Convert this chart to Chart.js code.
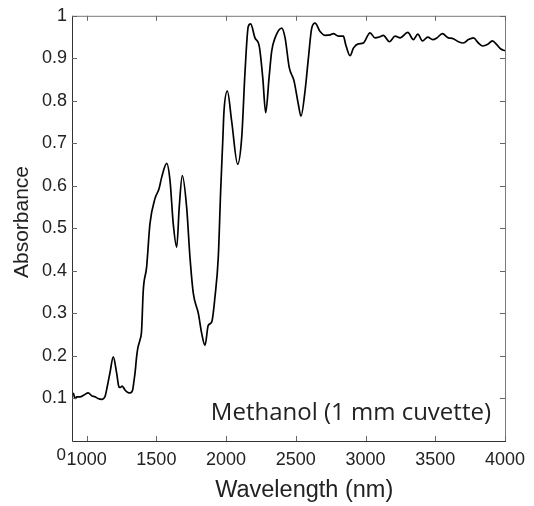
<!DOCTYPE html>
<html>
<head>
<meta charset="utf-8">
<script src="https://cdn.jsdelivr.net/npm/chart.js@4.4.1/dist/chart.umd.min.js"></script>
<style>
  html, body { margin: 0; padding: 0; background: #fff; }
  #wrap { width: 534px; height: 506px; }
</style>
</head>
<body>
<div id="wrap"><canvas id="c" width="534" height="506"></canvas></div>
<script>
// Wavelength (nm) samples
const wavelength = [895, 905, 916, 930, 952, 981, 1011, 1038, 1060, 1081, 1108, 1131, 1149, 1167, 1191, 1215, 1232, 1242, 1255, 1275, 1296, 1311, 1330, 1339, 1347, 1359, 1368, 1382, 1394, 1406, 1430, 1454, 1490, 1519, 1538, 1574, 1598, 1621, 1646, 1664, 1686, 1717, 1741, 1765, 1801, 1825, 1849, 1872, 1897, 1920, 1944, 1961, 1976, 1985, 2009, 2040, 2083, 2112, 2136, 2159, 2176, 2207, 2238, 2263, 2284, 2308, 2327, 2351, 2399, 2423, 2453, 2487, 2518, 2537, 2566, 2590, 2614, 2638, 2674, 2710, 2746, 2769, 2805, 2841, 2858, 2889, 2913, 2948, 2984, 3032, 3068, 3099, 3128, 3171, 3212, 3248, 3303, 3343, 3375, 3408, 3446, 3482, 3511, 3551, 3594, 3622, 3666, 3702, 3738, 3774, 3809, 3841, 3877, 3910, 3941, 3970, 4000];
// Absorbance values
const absorbance = [0.108, 0.112, 0.100, 0.104, 0.104, 0.108, 0.113, 0.106, 0.104, 0.100, 0.098, 0.104, 0.130, 0.160, 0.198, 0.160, 0.127, 0.126, 0.129, 0.120, 0.114, 0.113, 0.120, 0.140, 0.160, 0.200, 0.220, 0.237, 0.260, 0.354, 0.409, 0.511, 0.570, 0.593, 0.620, 0.653, 0.612, 0.511, 0.456, 0.550, 0.624, 0.550, 0.432, 0.347, 0.300, 0.253, 0.225, 0.272, 0.280, 0.338, 0.432, 0.588, 0.705, 0.776, 0.823, 0.752, 0.651, 0.714, 0.870, 0.975, 0.981, 0.948, 0.928, 0.854, 0.772, 0.854, 0.917, 0.948, 0.971, 0.948, 0.878, 0.847, 0.792, 0.764, 0.823, 0.900, 0.971, 0.983, 0.963, 0.954, 0.955, 0.958, 0.952, 0.952, 0.932, 0.906, 0.924, 0.934, 0.936, 0.960, 0.948, 0.950, 0.954, 0.939, 0.952, 0.948, 0.961, 0.944, 0.957, 0.941, 0.950, 0.944, 0.948, 0.958, 0.948, 0.947, 0.939, 0.936, 0.944, 0.948, 0.936, 0.929, 0.933, 0.941, 0.932, 0.922, 0.918];
const xTicks = [1000, 1500, 2000, 2500, 3000, 3500, 4000];
const yTicks = [0.1, 0.2, 0.3, 0.4, 0.5, 0.6, 0.7, 0.8, 0.9, 1];
const xLabel = 'Wavelength (nm)';
const yLabel = 'Absorbance';
const annotation = 'Methanol (1 mm cuvette)';

const points = wavelength.map((w, i) => ({ x: w, y: absorbance[i] }));
const SANS = '"Liberation Sans", Arial, Helvetica, sans-serif';

const boxPlugin = {
  id: 'box',
  afterDatasetsDraw(chart) {
    const { ctx, scales: { x, y } } = chart;
    const L = x.left, R = x.right, T = y.top, B = y.bottom;
    ctx.save();
    // top & right frame
    ctx.lineWidth = 1;
    ctx.strokeStyle = '#7a7a7a';
    ctx.beginPath();
    ctx.moveTo(L, T + 0.5); ctx.lineTo(R + 0.5, T + 0.5); ctx.lineTo(R + 0.5, B);
    ctx.stroke();
    // left & bottom frame
    ctx.strokeStyle = '#333';
    ctx.beginPath();
    ctx.moveTo(L + 0.5, T); ctx.lineTo(L + 0.5, B + 0.5); ctx.lineTo(R + 1, B + 0.5);
    ctx.stroke();
    // inward ticks
    const tl = 5;
    ctx.strokeStyle = '#666';
    ctx.beginPath();
    x.ticks.forEach(t => {
      const px = Math.round(x.getPixelForValue(t.value)) + 0.5;
      ctx.moveTo(px, B); ctx.lineTo(px, B - tl);
      ctx.moveTo(px, T); ctx.lineTo(px, T + tl);
    });
    y.ticks.forEach(t => {
      const py = Math.round(y.getPixelForValue(t.value)) + 0.5;
      ctx.moveTo(L, py); ctx.lineTo(L + tl, py);
      ctx.moveTo(R, py); ctx.lineTo(R - tl, py);
    });
    ctx.stroke();
    // zero label at the corner
    ctx.fillStyle = '#222';
    ctx.font = '17px ' + SANS;
    ctx.textAlign = 'right';
    ctx.textBaseline = 'middle';
    ctx.fillText('0', L - 6, y.getPixelForValue(0) + 14);
    // axis titles
    ctx.font = '23.5px ' + SANS;
    ctx.textAlign = 'center';
    ctx.textBaseline = 'middle';
    ctx.fillText(xLabel, x.getPixelForValue(2560), 491);
    ctx.save();
    ctx.translate(22, y.getPixelForValue(0.515));
    ctx.rotate(-Math.PI / 2);
    ctx.font = '21px ' + SANS;
    ctx.fillText(yLabel, 0, 0);
    ctx.restore();
    // annotation
    ctx.font = '24px "Open Sans", sans-serif';
    ctx.fillStyle = '#222';
    ctx.textAlign = 'right';
    ctx.textBaseline = 'alphabetic';
    ctx.fillText(annotation, R - 14, y.getPixelForValue(0.05));
    ctx.restore();
  }
};

new Chart(document.getElementById('c'), {
  type: 'line',
  data: {
    datasets: [{
      data: points,
      borderColor: '#000',
      borderWidth: 1.7,
      pointRadius: 0,
      fill: false,
      cubicInterpolationMode: 'monotone'
    }]
  },
  options: {
    responsive: false,
    animation: false,
    events: [],
    layout: { padding: { top: 15, right: 29, left: 0, bottom: 0 } },
    plugins: { legend: { display: false }, tooltip: { enabled: false } },
    scales: {
      x: {
        type: 'linear',
        min: 895,
        max: 4000,
        afterBuildTicks: s => { s.ticks = xTicks.map(v => ({ value: v })); },
        afterFit: s => { s.height = 65; },
        grid: { display: false, drawTicks: false },
        border: { display: false },
        ticks: {
          padding: 8,
          color: '#222',
          font: { family: SANS, size: 18 },
          callback: v => String(v),
          maxRotation: 0
        },
        title: { display: false }
      },
      y: {
        min: 0,
        max: 1,
        afterBuildTicks: s => { s.ticks = yTicks.map(v => ({ value: v })); },
        afterFit: s => { s.width = 72; },
        grid: { display: false, drawTicks: false },
        border: { display: false },
        ticks: {
          padding: 5,
          color: '#222',
          font: { family: SANS, size: 18 },
          callback: v => (Math.round(v * 10) / 10).toString()
        },
        title: { display: false }
      }
    }
  },
  plugins: [boxPlugin]
});
</script>
</body>
</html>
